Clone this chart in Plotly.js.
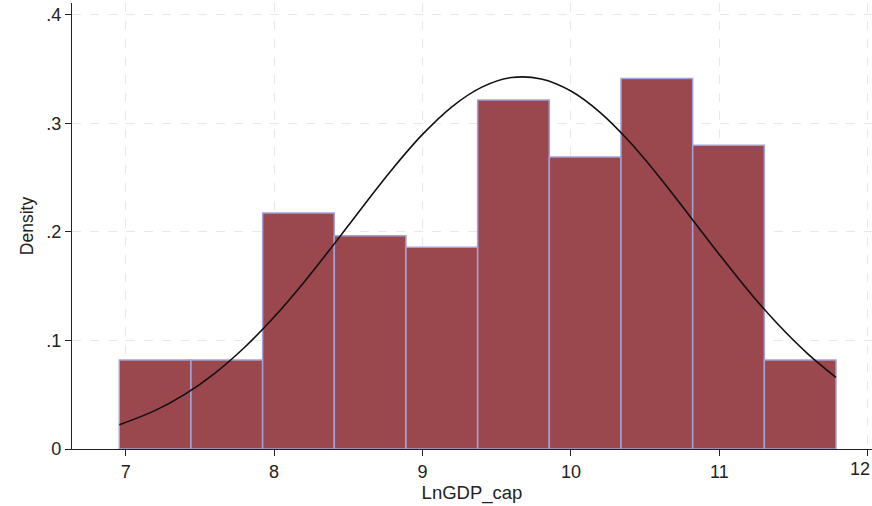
<!DOCTYPE html>
<html>
<head>
<meta charset="utf-8">
<script src="https://cdn.plot.ly/plotly-3.0.1.min.js"></script>
<style>html,body{margin:0;padding:0;background:#fff;}#chart{width:872px;height:506px;}</style>
</head>
<body>
<div id="chart"></div>
<script>
// Histogram bins (centers, density)
const binCenters = [7.198, 7.681, 8.164, 8.647, 9.130, 9.613, 10.096, 10.579, 11.062, 11.545];
const binDensity = [0.082, 0.082, 0.2175, 0.1965, 0.186, 0.3215, 0.269, 0.3415, 0.280, 0.082];
const binWidth = 0.4829;

// Normal density overlay
const curveX = [6.957, 7.2, 7.4, 7.6, 7.8, 8.0, 8.2, 8.4, 8.6, 8.8, 9.0, 9.2, 9.4, 9.6, 9.8, 10.0, 10.2, 10.4, 10.6, 10.8, 11.0, 11.2, 11.4, 11.6, 11.786];
const curveY = [0.0224, 0.0356, 0.0506, 0.0698, 0.0935, 0.1216, 0.1535, 0.1881, 0.2238, 0.2585, 0.2899, 0.3156, 0.3335, 0.3423, 0.3410, 0.3299, 0.3098, 0.2824, 0.2500, 0.2148, 0.1793, 0.1452, 0.1142, 0.0872, 0.0660];

// Tick labels
const xTickVals = [7, 8, 9, 10, 11, 12];
const xTickText = ["7", "8", "9", "10", "11", ""];
const xLastTickText = "12";
const yTickVals = [0, 0.1, 0.2, 0.3, 0.4];
const yTickText = ["0", ".1", ".2", ".3", ".4"];

const traces = [
  {
    type: 'bar',
    x: binCenters,
    y: binDensity,
    width: binCenters.map(() => binWidth),
    marker: {color: '#9a474d', line: {color: '#a3a2d6', width: 1.5}},
    hoverinfo: 'skip'
  },
  {
    type: 'scatter',
    mode: 'lines',
    x: curveX,
    y: curveY,
    line: {color: '#111111', width: 1.6, shape: 'spline'},
    hoverinfo: 'skip'
  }
];

const fam = 'Liberation Sans, Arial, sans-serif';

const layout = {
  width: 872,
  height: 506,
  margin: {l: 72, r: 0, t: 3, b: 57},
  paper_bgcolor: '#ffffff',
  plot_bgcolor: '#ffffff',
  showlegend: false,
  font: {family: fam, size: 18, color: '#222'},
  xaxis: {
    range: [6.638, 12.029],
    tickvals: xTickVals,
    ticktext: xTickText,
    ticks: 'outside',
    ticklen: 6,
    tickcolor: '#222',
    showline: true,
    linecolor: '#222',
    linewidth: 1.2,
    showgrid: true,
    gridcolor: '#e8e8e8',
    griddash: 'dash',
    gridwidth: 1,
    zeroline: false,
    tickfont: {family: fam, size: 18, color: '#222'},
    title: {text: 'LnGDP_cap', font: {family: fam, size: 18.5, color: '#222'}, standoff: 4}
  },
  yaxis: {
    range: [0, 0.411],
    tickvals: yTickVals,
    ticktext: yTickText,
    ticks: 'outside',
    ticklen: 6,
    tickcolor: '#222',
    showline: true,
    linecolor: '#222',
    linewidth: 1.2,
    showgrid: true,
    gridcolor: '#e8e8e8',
    griddash: 'dash',
    gridwidth: 1,
    zeroline: false,
    tickfont: {family: fam, size: 18, color: '#222'},
    title: {text: 'Density', font: {family: fam, size: 17.5, color: '#222'}, standoff: 8}
  },
  annotations: [
    {
      text: xLastTickText,
      xref: 'paper', yref: 'paper',
      x: 1, y: 0,
      xanchor: 'right', yanchor: 'top',
      yshift: -8,
      showarrow: false,
      font: {family: fam, size: 18, color: '#222'}
    }
  ]
};

Plotly.newPlot('chart', traces, layout, {displayModeBar: false, staticPlot: true});
</script>
</body>
</html>
